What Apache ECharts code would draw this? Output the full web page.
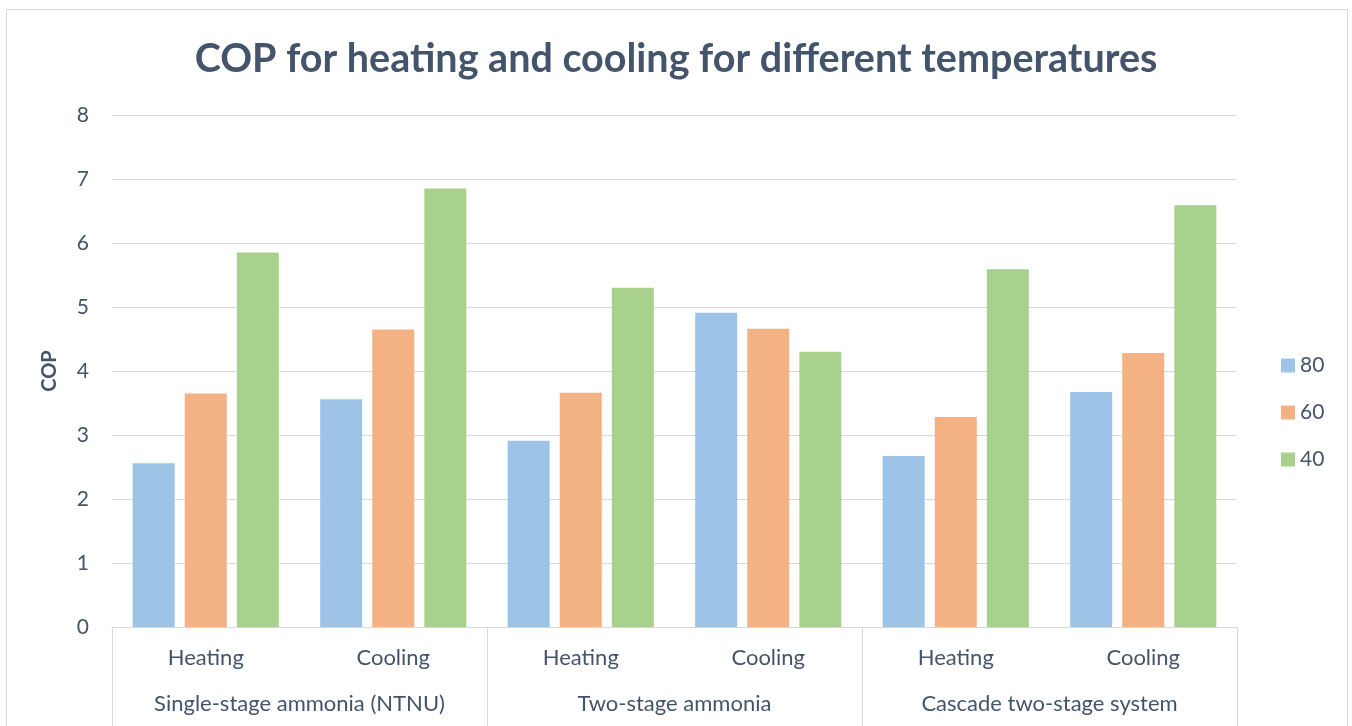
<!DOCTYPE html>
<html><head><meta charset="utf-8">
<script src="https://cdn.jsdelivr.net/npm/echarts@6/dist/echarts.min.js"></script>
<style>html,body{margin:0;padding:0;background:#fff}#c{width:1352px;height:726px}</style>
</head><body><div id="c"></div>
<script>
const subCategories = ['Heating','Cooling','Heating','Cooling','Heating','Cooling'];
const groups = ['Single-stage ammonia (NTNU)','Two-stage ammonia','Cascade two-stage system'];
const s80 = [2.56, 3.56, 2.91, 4.91, 2.67, 3.67];
const s60 = [3.65, 4.65, 3.66, 4.66, 3.28, 4.28];
const s40 = [5.85, 6.85, 5.30, 4.30, 5.59, 6.59];
const seriesNames = ['80','60','40'];
const colors = ['#9DC3E6','#F4B183','#A9D18E'];
const FONT = 'Lato';
const TXT = '#44546A';
const chart = echarts.init(document.getElementById('c'));
const data = [s80, s60, s40];
chart.setOption({
  animation:false,
  textStyle:{fontFamily:FONT},
  title:{text:'COP for heating and cooling for different temperatures',left:'center',top:34,
    textStyle:{fontFamily:FONT,fontSize:39.5,fontWeight:'bold',color:TXT}},
  graphic:[{type:'rect',shape:{x:6.5,y:9.5,width:1341,height:730},style:{fill:null,stroke:'#D9D9D9',lineWidth:1}}],
  legend:{orient:'vertical',left:1276,top:350,itemWidth:14,itemHeight:14,itemGap:26,
    icon:'rect',textStyle:{fontFamily:FONT,fontSize:21,color:TXT,lineHeight:20},data:seriesNames},
  grid:{left:112,right:115,top:115,bottom:99},
  xAxis:[{type:'category',data:subCategories,
      axisLine:{lineStyle:{color:'#D9D9D9'}},axisTick:{show:false},
      axisLabel:{interval:0,fontFamily:FONT,fontSize:22,color:TXT,margin:20}},
    {type:'category',data:groups,position:'bottom',
      axisLine:{show:false},axisTick:{show:true,interval:0,length:100,lineStyle:{color:'#D9D9D9'}},
      axisLabel:{interval:0,fontFamily:FONT,fontSize:22,color:TXT,margin:66}}],
  yAxis:{type:'value',min:0,max:8,interval:1,name:'COP',nameLocation:'middle',nameGap:52,
    nameTextStyle:{fontFamily:FONT,fontSize:20,fontWeight:'bold',color:TXT},
    axisLine:{show:false},axisTick:{show:false},
    axisLabel:{fontFamily:FONT,fontSize:21,color:TXT,margin:23},
    splitLine:{lineStyle:{color:'#D9D9D9'}}},
  series: seriesNames.map((n,i)=>({name:n,type:'bar',data:data[i],xAxisIndex:0,
    barWidth:'22.4%',barGap:'24%',itemStyle:{color:colors[i]}}))
});
</script></body></html>
